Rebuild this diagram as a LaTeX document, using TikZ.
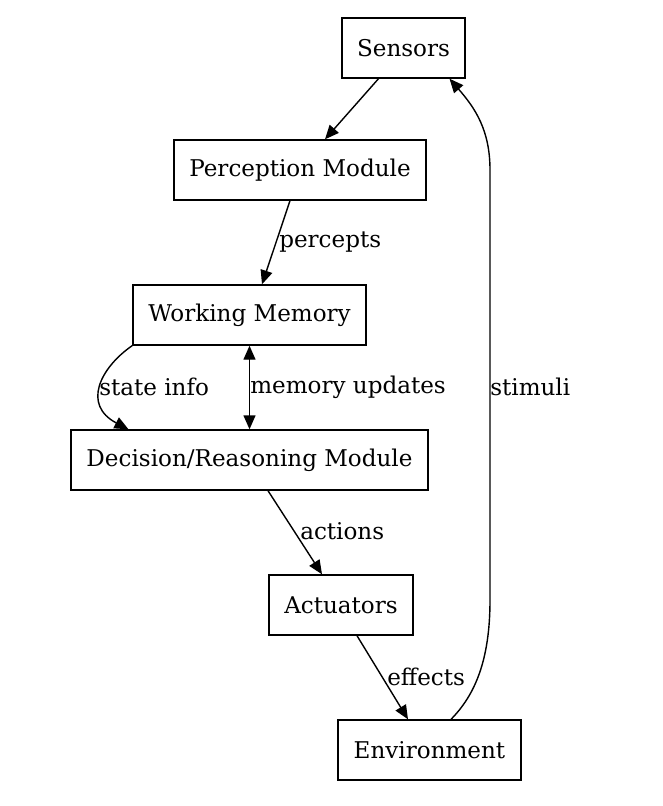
\documentclass[tikz,border=0pt]{standalone}
\usepackage{fontspec}
\setmainfont{DejaVu Serif}
\usetikzlibrary{arrows.meta,calc}
\begin{document}
\begin{tikzpicture}[x=0.75pt,y=-0.75pt,
  box/.style={draw,line width=1.05pt,inner sep=0pt,minimum height=45pt,font=\fontsize{17.3}{20}\selectfont},
  edge/.style={line width=1.05pt,-{Triangle[length=10.5pt,width=9pt]}},
  lab/.style={anchor=west,inner sep=0pt,font=\fontsize{17.3}{20}\selectfont}]
\useasboundingbox (0,0) rectangle (662,806);
\node[box,minimum width=92pt] (sens) at (403.5,48) {Sensors};
\node[box,minimum width=189pt] (perc) at (300,170) {Perception Module};
\node[box,minimum width=175pt] (wm) at (249.5,315) {Working Memory};
\node[box,minimum width=268pt] (dec) at (249.5,460) {Decision/Reasoning Module};
\node[box,minimum width=108pt] (act) at (341,605) {Actuators};
\node[box,minimum width=137pt] (env) at (429.5,750) {Environment};
\draw[edge] ($(sens.south)+(-25,0)$) -- ($(perc.north)+(25,0)$);
\draw[edge] ($(perc.south)+(-10,0)$) -- ($(wm.north)+(12.5,0)$);
\node[lab] (lpercepts) at (279,242) {percepts};
\draw[edge] (wm.south west) .. controls (100,368) and (82,405) .. ($(dec.north)+(-121,0)$);
\node[lab] (lstate) at (99,387) {state info};
\draw[line width=1.05pt,{Triangle[length=10.5pt,width=9pt]}-{Triangle[length=10.5pt,width=9pt]}] (wm.south) -- (dec.north);
\node[lab] (lmem) at (250,387) {memory updates};
\draw[edge] ($(dec.south)+(18.5,0)$) -- ($(act.north)+(-19,0)$);
\node[lab] (lactions) at (300,531) {actions};
\draw[edge] ($(act.south)+(16,0)$) -- ($(env.north)+(-21.5,0)$);
\node[lab] (leffects) at (387,677) {effects};
\draw[edge] ($(env.north)+(21.5,0)$) .. controls (475,695) and (490,660) .. (490,600) -- (490,170) .. controls (490,130) and (475,108) .. ($(sens.south)+(46,0)$);
\node[lab] (lstim) at (490,387) {stimuli};
\end{tikzpicture}
\end{document}
